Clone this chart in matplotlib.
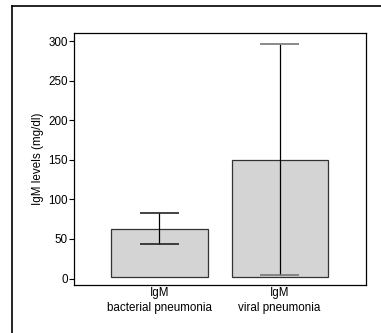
import matplotlib
matplotlib.use("Agg")
import matplotlib.pyplot as plt
from matplotlib import font_manager
from matplotlib.lines import Line2D
import numpy as np

# IgM levels by pneumonia type
groups = ["IgM\nbacterial pneumonia", "IgM\nviral pneumonia"]
bar_base = [2, 2]
means = [63, 150]
err_low = [44, 4]
err_high = [83, 297]
cap_colors = ["#222222", "#777777"]

# make sure the regular (not narrow) Liberation Sans is used
regular = [f for f in font_manager.findSystemFonts()
           if f.endswith("LiberationSans-Regular.ttf")]
if regular:
    font_manager.fontManager.addfont(regular[0])
    fam = font_manager.FontProperties(fname=regular[0]).get_name()
else:
    fam = "DejaVu Sans"
plt.rcParams["font.family"] = [fam, "DejaVu Sans"]

fig = plt.figure(figsize=(3.81, 3.33), dpi=100)
ax = fig.add_axes([74 / 381, 1 - 285 / 333, (366 - 74) / 381, (285 - 33) / 333])

x = np.arange(1, len(groups) + 1)
heights = [m - b for m, b in zip(means, bar_base)]
ax.bar(x, heights, bottom=bar_base, width=0.8, color="#d4d4d4",
       edgecolor="#333333", linewidth=0.9)

for i in range(len(x)):
    ax.vlines(x[i], err_low[i], err_high[i], color="black", linewidth=0.9)
    for yv in (err_low[i], err_high[i]):
        ax.hlines(yv, x[i] - 0.16, x[i] + 0.16, color=cap_colors[i], linewidth=1.2)

ax.set_xlim(0.288, 2.72)
ax.set_ylim(-8.2, 310.5)
ax.set_yticks([0, 50, 100, 150, 200, 250, 300])
ax.set_xticks(x)
ax.set_xticklabels(groups, fontsize=8.4, linespacing=1.3)
ax.tick_params(axis="x", length=0, pad=1.5)
ax.tick_params(axis="y", length=3.5, width=0.8, labelsize=8.4, pad=1)
ax.set_ylabel("IgM levels (mg/dl)", fontsize=8.4, labelpad=3)
for s in ax.spines.values():
    s.set_linewidth(0.9)

# outer panel frame (left and top edges)
fig.add_artist(Line2D([12 / 381, 12 / 381], [0, 1 - 6 / 333], transform=fig.transFigure,
                      color="black", linewidth=1.2))
fig.add_artist(Line2D([12 / 381, 1], [1 - 6 / 333, 1 - 6 / 333], transform=fig.transFigure,
                      color="black", linewidth=1.2))

fig.savefig("out.png", dpi=100)
